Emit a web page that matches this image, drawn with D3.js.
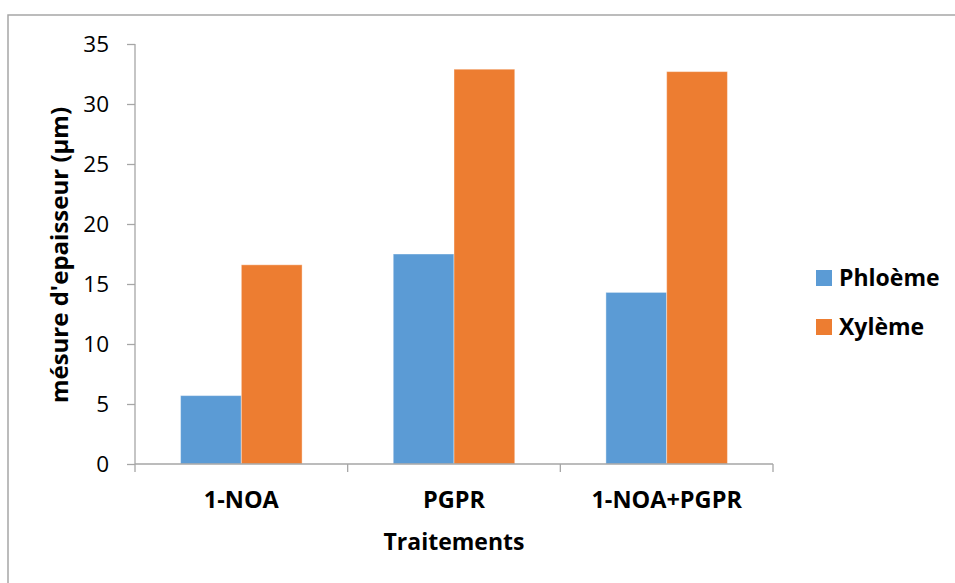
<!DOCTYPE html>
<html lang="en">
	<head>
		<meta charset="utf-8">
		<title>Traitements</title>
		<script type="text/javascript" src="https://cdn.jsdelivr.net/npm/d3@7"></script>
		<style type="text/css">
			body { margin: 0; background: #fff; }
			svg { display: block; font-family: "Open Sans", sans-serif; }
		</style>
	</head>
	<body>
		<script type="text/javascript">

			var width = 955;
			var height = 583;

			// data
			var categories = ["1-NOA", "PGPR", "1-NOA+PGPR"];
			var seriesNames = ["Phloème", "Xylème"];
			var phloeme = [5.7, 17.5, 14.3];
			var xyleme = [16.6, 32.9, 32.7];
			var yTicks = [0, 5, 10, 15, 20, 25, 30, 35];
			var colors = ["#5b9bd5", "#ed7d31"];

			var plotLeft = 135, plotRight = 773, plotTop = 44, plotBottom = 464;

			var svg = d3.select("body")
						.append("svg")
						.attr("width", width)
						.attr("height", height);

			// chart frame (runs off the right / bottom of the picture)
			svg.append("rect")
				.attr("x", 8).attr("y", 15)
				.attr("width", 1000).attr("height", 1000)
				.attr("fill", "none")
				.attr("stroke", "#a6a6a6")
				.attr("stroke-width", 1.5);

			var xScale = d3.scaleBand()
				.domain(categories)
				.range([plotLeft, plotRight])
				.paddingInner(0).paddingOuter(0);

			// gap width 150% -> 0.75 bar on each side
			var xSub = d3.scaleBand()
				.domain(seriesNames)
				.range([0, xScale.bandwidth()])
				.paddingOuter(0.75);

			var yScale = d3.scaleLinear()
				.domain([0, 35])
				.range([plotBottom, plotTop]);

			// bars
			var rows = categories.map(function(c, i) {
				return {cat: c, vals: [phloeme[i], xyleme[i]]};
			});

			var groups = svg.selectAll("g.grp").data(rows).enter()
				.append("g")
				.attr("class", "grp")
				.attr("transform", function(d){ return "translate(" + xScale(d.cat) + ",0)"; });

			groups.selectAll("rect").data(function(d){
					return d.vals.map(function(v, j){ return {name: seriesNames[j], v: v, j: j}; });
				}).enter()
				.append("rect")
				.attr("x", function(d){ return xSub(d.name); })
				.attr("width", xSub.bandwidth())
				.attr("y", function(d){ return yScale(d.v); })
				.attr("height", function(d){ return plotBottom - yScale(d.v); })
				.attr("fill", function(d){ return colors[d.j]; })
				.attr("stroke", "#fff")
				.attr("stroke-opacity", 0.4)
				.attr("stroke-width", 1);

			// y axis
			var yAxis = svg.append("g")
				.attr("transform", "translate(" + plotLeft + ",0)")
				.call(d3.axisLeft(yScale).tickValues(yTicks).tickSize(8).tickPadding(18));
			yAxis.selectAll("path, line").attr("stroke", "#a6a6a6").attr("stroke-width", 1.3);
			yAxis.select("path").attr("d", "M0," + plotTop + "V" + plotBottom);
			yAxis.selectAll("text")
				.attr("fill", "#000")
				.style("font-size", "22.5px")
				.style("font-family", "'Open Sans', sans-serif");

			// x axis with ticks between categories
			var xAxis = svg.append("g")
				.attr("transform", "translate(0," + plotBottom + ")");
			xAxis.append("line")
				.attr("x1", plotLeft).attr("x2", plotRight)
				.attr("stroke", "#a6a6a6").attr("stroke-width", 1.3);
			var bounds = categories.map(function(c){ return xScale(c); }).concat([plotRight]);
			xAxis.selectAll("line.tk").data(bounds).enter()
				.append("line")
				.attr("class", "tk")
				.attr("x1", function(d){ return d; }).attr("x2", function(d){ return d; })
				.attr("y1", 0).attr("y2", 8)
				.attr("stroke", "#a6a6a6").attr("stroke-width", 1.3);
			xAxis.selectAll("text").data(categories).enter()
				.append("text")
				.attr("x", function(d){ return xScale(d) + xScale.bandwidth() / 2; })
				.attr("y", 44)
				.attr("text-anchor", "middle")
				.style("font-size", "23.5px")
				.style("font-weight", "bold")
				.text(function(d){ return d; });

			// axis titles
			svg.append("text")
				.attr("x", (plotLeft + plotRight) / 2)
				.attr("y", 550)
				.attr("text-anchor", "middle")
				.style("font-size", "23px")
				.style("font-weight", "bold")
				.text("Traitements");

			svg.append("text")
				.attr("transform", "translate(68," + ((plotTop + plotBottom) / 2 + 1) + ") rotate(-90)")
				.attr("text-anchor", "middle")
				.style("font-size", "24px")
				.style("font-weight", "bold")
				.text("mésure d'epaisseur (µm)");

			// legend
			var legend = svg.selectAll("g.leg").data(seriesNames).enter()
				.append("g")
				.attr("class", "leg")
				.attr("transform", function(d, i){ return "translate(816," + (270 + i * 49) + ")"; });
			legend.append("rect")
				.attr("width", 16).attr("height", 16)
				.attr("fill", function(d, i){ return colors[i]; });
			legend.append("text")
				.attr("x", 23).attr("y", 16)
				.style("font-size", "23px")
				.style("font-weight", "bold")
				.text(function(d){ return d; });

		</script>
	</body>
</html>
